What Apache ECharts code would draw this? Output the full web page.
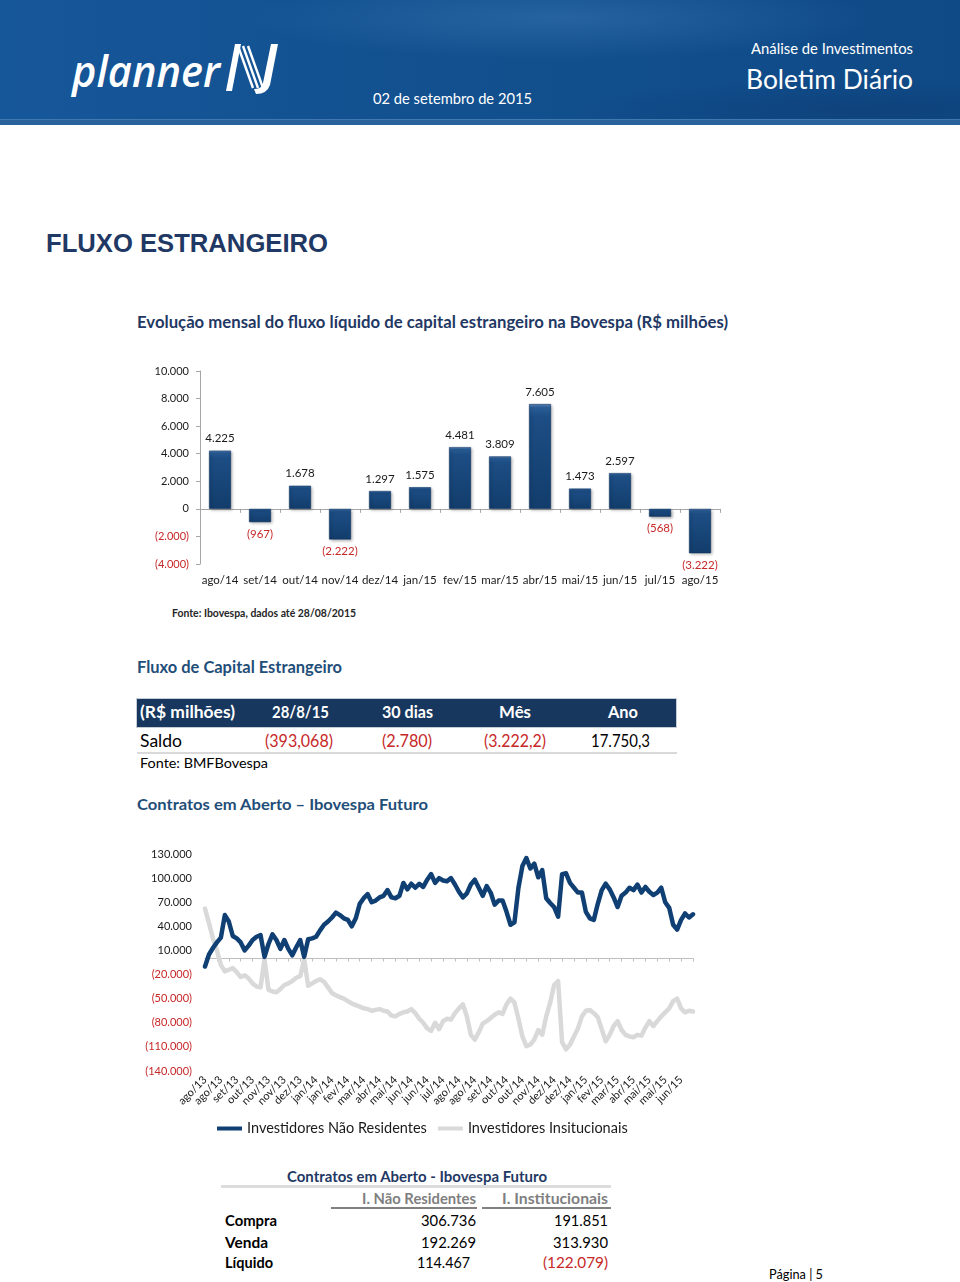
<!DOCTYPE html>
<html lang="pt-BR">
<head>
<meta charset="utf-8">
<title>Fluxo Estrangeiro</title>
<script src="https://cdn.jsdelivr.net/npm/echarts@6/dist/echarts.min.js"></script>
<style>
  html, body { margin: 0; padding: 0; background: #fff; }
  body { width: 960px; height: 1282px; position: relative; overflow: hidden; font-family: Lato, 'Open Sans', sans-serif; }
  .t { position: absolute; white-space: nowrap; transform-origin: 0 50%; line-height: 1.2; }
  .hdr { position: absolute; left: 0; top: 0; width: 960px; height: 124px;
    background:
      radial-gradient(ellipse 420px 55px at 560px 18px, rgba(90,150,210,0.28), rgba(90,150,210,0) 75%),
      radial-gradient(ellipse 380px 40px at 860px 110px, rgba(10,40,90,0.25), rgba(10,40,90,0) 75%),
      linear-gradient(90deg, #16579a 0%, #12508f 45%, #0f4a86 100%); }
  .hdr-strip { position: absolute; left: 0; top: 119px; width: 960px; height: 5px; background: #2a629b; border-top: 1px solid #3f79b0; }
  .box { position: absolute; }
  .white { color: #fff; }
  .navy { color: #1f3864; }
  .blue { color: #1f4e79; }
  .red { color: #c62828; }
</style>
</head>
<body>

<div class="hdr"></div>
<div class="hdr-strip"></div>
<div class="t white" style="left:72px; top:44px; font-family:'Open Sans',Lato,sans-serif; font-style:italic; font-weight:600; font-size:44px;" data-w="148">planner</div>
<svg class="box" style="left:222px; top:38px;" width="68" height="58" viewBox="0 0 68 58">
  <polygon points="4,53 13,6 19,6 10,53" fill="#fff"/>
  <line x1="16" y1="8" x2="31" y2="50" stroke="#fff" stroke-width="2.4"/>
  <line x1="21" y1="8" x2="36" y2="50" stroke="#fff" stroke-width="2.4"/>
  <line x1="26" y1="8" x2="41" y2="50" stroke="#fff" stroke-width="2.4"/>
  <path d="M49 6 L56 6 L48 47 Q45 56 34 56 L32 51 Q40 51 41 45 Z" fill="#fff"/>
</svg>
<div class="t white" style="left:751px; top:39px; font-size:15px;" data-w="162">Análise de Investimentos</div>
<div class="t white" style="left:746px; top:62.8px; font-size:27px;" data-w="167">Boletim Diário</div>
<div class="t white" style="left:373px; top:89px; font-size:15px;" data-w="159">02 de setembro de 2015</div>

<div class="t navy" style="left:46px; top:227.6px; font-family:'Liberation Sans',Arial,sans-serif; font-weight:700; font-size:25.6px;" data-w="282">FLUXO ESTRANGEIRO</div>
<div class="t navy" style="left:137px; top:311.8px; font-weight:700; font-size:17px;" data-w="591">Evolução mensal do fluxo líquido de capital estrangeiro na Bovespa (R$ milhões)</div>

<div id="c1" class="box" style="left:0; top:340px; width:960px; height:262px;"></div>

<div class="t" style="left:172px; top:605.8px; font-weight:700; font-size:12px; color:#262626;" data-w="184">Fonte: Ibovespa, dados até 28/08/2015</div>

<div class="t blue" style="left:137px; top:656.8px; font-weight:700; font-size:17px;" data-w="205">Fluxo de Capital Estrangeiro</div>

<div class="box" style="left:136px; top:698px; width:539px; height:28px; background:#17375e; border:1px solid #c5ccd6;"></div>
<div class="t white" style="left:140px; top:701.8px; font-weight:700; font-size:17px;" data-w="95">(R$ milhões)</div>
<div class="t white" style="left:272px; top:701.8px; font-weight:700; font-size:17px;" data-w="57">28/8/15</div>
<div class="t white" style="left:382px; top:701.8px; font-weight:700; font-size:17px;" data-w="51">30 dias</div>
<div class="t white" style="left:499px; top:701.8px; font-weight:700; font-size:17px;" data-w="32">Mês</div>
<div class="t white" style="left:608px; top:701.8px; font-weight:700; font-size:17px;" data-w="30">Ano</div>

<div class="t" style="left:140px; top:730.8px; font-size:17px; color:#000;" data-w="42">Saldo</div>
<div class="t red" style="left:265px; top:730.8px; font-size:17px;" data-w="68">(393,068)</div>
<div class="t red" style="left:382px; top:730.8px; font-size:17px;" data-w="50">(2.780)</div>
<div class="t red" style="left:484px; top:730.8px; font-size:17px;" data-w="62">(3.222,2)</div>
<div class="t" style="left:591px; top:730.8px; font-size:17px; color:#000;" data-w="59">17.750,3</div>
<div class="box" style="left:137px; top:752px; width:540px; height:2px; background:#d9d9d9;"></div>
<div class="t" style="left:140px; top:754.6px; font-size:14px; color:#000;" data-w="128">Fonte: BMFBovespa</div>

<div class="t blue" style="left:137px; top:794.4px; font-weight:700; font-size:16px;" data-w="291">Contratos em Aberto – Ibovespa Futuro</div>

<div id="c2" class="box" style="left:0; top:830px; width:960px; height:320px;"></div>

<div class="t navy" style="left:287px; top:1167px; font-weight:700; font-size:15px;" data-w="260">Contratos em Aberto - Ibovespa Futuro</div>
<div class="box" style="left:221px; top:1185px; width:390px; height:3px; background:#dcdcdc;"></div>
<div class="t" style="left:362px; top:1189px; font-weight:700; font-size:15px; color:#7f7f7f;" data-w="114">I. Não Residentes</div>
<div class="t" style="left:502px; top:1189px; font-weight:700; font-size:15px; color:#7f7f7f;" data-w="106">I. Institucionais</div>
<div class="box" style="left:331px; top:1206.5px; width:146px; height:2.5px; background:#808080;"></div>
<div class="box" style="left:482px; top:1206.5px; width:129px; height:2.5px; background:#808080;"></div>

<div class="t" style="left:225px; top:1211px; font-weight:700; font-size:15px; color:#000;" data-w="52">Compra</div>
<div class="t" style="left:421px; top:1211px; font-size:15px; color:#000;" data-w="55">306.736</div>
<div class="t" style="left:554px; top:1211px; font-size:15px; color:#000;" data-w="54">191.851</div>
<div class="t" style="left:225px; top:1232.5px; font-weight:700; font-size:15px; color:#000;" data-w="43">Venda</div>
<div class="t" style="left:421px; top:1232.5px; font-size:15px; color:#000;" data-w="55">192.269</div>
<div class="t" style="left:553px; top:1232.5px; font-size:15px; color:#000;" data-w="55">313.930</div>
<div class="t" style="left:225px; top:1252.5px; font-weight:700; font-size:15px; color:#000;" data-w="48">Líquido</div>
<div class="t" style="left:417px; top:1252.5px; font-size:15px; color:#000;" data-w="53">114.467</div>
<div class="t red" style="left:543px; top:1252.5px; font-size:15px;" data-w="65">(122.079)</div>

<div class="t" style="left:769px; top:1267.2px; font-size:13px; color:#000;" data-w="54">Página | 5</div>

<script>
// ---------- Data ----------
const barCategories = ['ago/14','set/14','out/14','nov/14','dez/14','jan/15','fev/15','mar/15','abr/15','mai/15','jun/15','jul/15','ago/15'];
const barValues = [4225, -967, 1678, -2222, 1297, 1575, 4481, 3809, 7605, 1473, 2597, -568, -3222];

const lineTickLabels = ['ago/13','ago/13','set/13','out/13','nov/13','nov/13','dez/13','jan/14','jan/14','fev/14',
  'mar/14','abr/14','mai/14','jun/14','jun/14','jul/14','ago/14','ago/14','set/14','out/14',
  'out/14','nov/14','dez/14','dez/14','jan/15','fev/15','mar/15','abr/15','mai/15','mai/15','jun/15'];

const naoResidentes = [
  -10000, 5000, 13000, 20000, 26000, 54000, 46000, 28000, 25000, 20000,
  10000, 16000, 23000, 27000, 29000, 2000, 18000, 30000, 23000, 12000,
  23000, 12000, 4000, 14000, 23000, 2000, 24000, 25000, 27000, 35000,
  42000, 46000, 51000, 57000, 54000, 50000, 48000, 40000, 50000, 68000,
  75000, 80000, 70000, 72000, 76000, 78000, 85000, 76000, 75000, 78000,
  94000, 86000, 93000, 88000, 93000, 89000, 98000, 105000, 94000, 100000,
  97000, 96000, 100000, 92000, 83000, 76000, 81000, 92000, 98000, 88000,
  78000, 90000, 82000, 67000, 72000, 72000, 58000, 42000, 45000, 88000,
  115000, 125000, 112000, 118000, 101000, 110000, 75000, 69000, 64000, 52000,
  105000, 106000, 94000, 88000, 82000, 82000, 58000, 50000, 48000, 68000,
  85000, 93000, 86000, 76000, 64000, 78000, 82000, 88000, 85000, 92000,
  82000, 89000, 83000, 79000, 82000, 88000, 70000, 63000, 42000, 36000,
  48000, 56000, 51000, 55000
];

const institucionais = [
  62000, 44000, 25000, 10000, -8000, -16000, -14000, -12000, -17000, -23000,
  -21000, -25000, -31000, -35000, -36000, -1000, -39000, -41000, -42000, -38000,
  -33000, -31000, -28000, -24000, -22000, -1000, -34000, -31000, -28000, -26000,
  -29000, -36000, -43000, -46000, -48000, -50000, -53000, -56000, -58000, -60000,
  -62000, -63000, -65000, -64000, -63000, -65000, -66000, -71000, -72000, -69000,
  -67000, -66000, -63000, -68000, -75000, -80000, -87000, -90000, -80000, -88000,
  -78000, -75000, -76000, -68000, -62000, -57000, -72000, -95000, -101000, -92000,
  -81000, -78000, -74000, -70000, -67000, -69000, -57000, -50000, -55000, -75000,
  -97000, -109000, -107000, -101000, -89000, -95000, -72000, -55000, -33000, -28000,
  -104000, -113000, -107000, -97000, -87000, -72000, -65000, -64000, -68000, -73000,
  -88000, -103000, -95000, -84000, -78000, -89000, -95000, -97000, -98000, -95000,
  -96000, -86000, -78000, -84000, -78000, -72000, -67000, -62000, -53000, -50000,
  -62000, -67000, -65000, -66000
];

// ---------- Helpers ----------
const RED = '#c62828';
const FONT = "Lato, 'Open Sans', sans-serif";
function fmt(v) {
  v = Number(v);
  const s = Math.abs(Math.round(v)).toString().replace(/\B(?=(\d{3})+(?!\d))/g, '.');
  return v < 0 ? '(' + s + ')' : s;
}
function labelColor(v) { return parseFloat(v) < 0 ? RED : '#1a1a1a'; }

// fit text widths
document.querySelectorAll('.t[data-w]').forEach(el => {
  const w = parseFloat(el.dataset.w);
  const nat = el.getBoundingClientRect().width;
  if (w && nat) el.style.transform = 'scaleX(' + (w / nat).toFixed(4) + ')';
});

// ---------- Bar chart ----------
const c1 = echarts.init(document.getElementById('c1'), null, { renderer: 'canvas' });
const barGradient = new echarts.graphic.LinearGradient(0, 0, 0, 1, [
  { offset: 0, color: '#5e8cc2' },
  { offset: 0.035, color: '#2a5d96' },
  { offset: 0.12, color: '#1c4d84' },
  { offset: 1, color: '#123d6c' }
]);
c1.setOption({
  animation: false,
  grid: { left: 200, top: 31, width: 520, height: 193, containLabel: false },
  yAxis: {
    type: 'value', min: -4000, max: 10000, interval: 2000,
    axisLine: { show: true, lineStyle: { color: '#a6a6a6', width: 1 } },
    axisTick: { show: true, length: 4, lineStyle: { color: '#a6a6a6' } },
    splitLine: { show: false },
    axisLabel: { formatter: fmt, color: labelColor, fontSize: 11, fontFamily: FONT, margin: 11 }
  },
  xAxis: [
    {
      type: 'category', data: barCategories, position: 'bottom',
      axisLine: { show: false, onZero: false }, axisTick: { show: false },
      axisLabel: { interval: 0, hideOverlap: false, fontSize: 11.5, fontFamily: FONT, color: '#1a1a1a', margin: 10 }
    },
    {
      type: 'category', data: barCategories, position: 'top',
      axisLine: { show: true, onZero: true, lineStyle: { color: '#a6a6a6' } },
      axisTick: { show: true, inside: true, length: 4, interval: 0, lineStyle: { color: '#a6a6a6' } },
      axisLabel: { show: false }, splitLine: { show: false }
    }
  ],
  series: [{
    type: 'bar', xAxisIndex: 0, barWidth: 22,
    data: barValues.map(v => ({
      value: v,
      label: { position: v >= 0 ? 'top' : 'bottom', color: v >= 0 ? '#1a1a1a' : RED }
    })),
    itemStyle: {
      color: barGradient, borderColor: '#0e3461', borderWidth: 0.6,
      shadowColor: 'rgba(0,0,0,0.35)', shadowBlur: 3, shadowOffsetX: 1.5, shadowOffsetY: 1.5
    },
    label: { show: true, formatter: p => fmt(p.value), fontSize: 11.5, fontFamily: FONT, distance: 6 }
  }]
});

// ---------- Line chart ----------
const c2 = echarts.init(document.getElementById('c2'), null, { renderer: 'canvas' });
const lineIdx = naoResidentes.map((_, i) => String(i));
const STEP = Math.round(naoResidentes.length / lineTickLabels.length);
c2.setOption({
  animation: false,
  grid: { left: 205, top: 24, width: 488, height: 217, containLabel: false },
  legend: {
    data: ['Investidores Não Residentes', 'Investidores Insitucionais'],
    left: 217, top: 291, padding: 0, icon: 'rect', itemWidth: 25, itemHeight: 4, itemGap: 11,
    textStyle: { fontSize: 14.5, fontFamily: FONT, color: '#1a1a1a' }
  },
  yAxis: {
    type: 'value', min: -140000, max: 130000, interval: 30000,
    axisLine: { show: false }, axisTick: { show: false }, splitLine: { show: false },
    axisLabel: { formatter: fmt, color: labelColor, fontSize: 11, fontFamily: FONT, margin: 13 }
  },
  xAxis: [
    {
      type: 'category', data: lineIdx, boundaryGap: false, position: 'bottom',
      axisLine: { show: false, onZero: false }, axisTick: { show: false },
      axisLabel: {
        interval: (i) => i % STEP === 0, rotate: 45, margin: 7,
        formatter: (v, i) => lineTickLabels[Math.round(i / STEP)] || '',
        fontSize: 11, fontFamily: FONT, color: '#1a1a1a'
      }
    },
    {
      type: 'category', data: lineIdx, boundaryGap: false, position: 'top',
      axisLine: { show: true, onZero: true, lineStyle: { color: '#bfbfbf' } },
      axisTick: { show: true, inside: true, interval: 2, length: 3, lineStyle: { color: '#bfbfbf' } },
      axisLabel: { show: false }, splitLine: { show: false }
    }
  ],
  series: [
    {
      name: 'Investidores Insitucionais', type: 'line', xAxisIndex: 0, data: institucionais,
      symbol: 'none', z: 2,
      lineStyle: { width: 4.5, color: '#d9d9d9', cap: 'round', join: 'round' },
      itemStyle: { color: '#d9d9d9' }
    },
    {
      name: 'Investidores Não Residentes', type: 'line', xAxisIndex: 0, data: naoResidentes,
      symbol: 'none', z: 3,
      lineStyle: { width: 4.5, color: '#0f3f73', cap: 'round', join: 'round' },
      itemStyle: { color: '#0f3f73' }
    }
  ]
});
</script>
</body>
</html>
